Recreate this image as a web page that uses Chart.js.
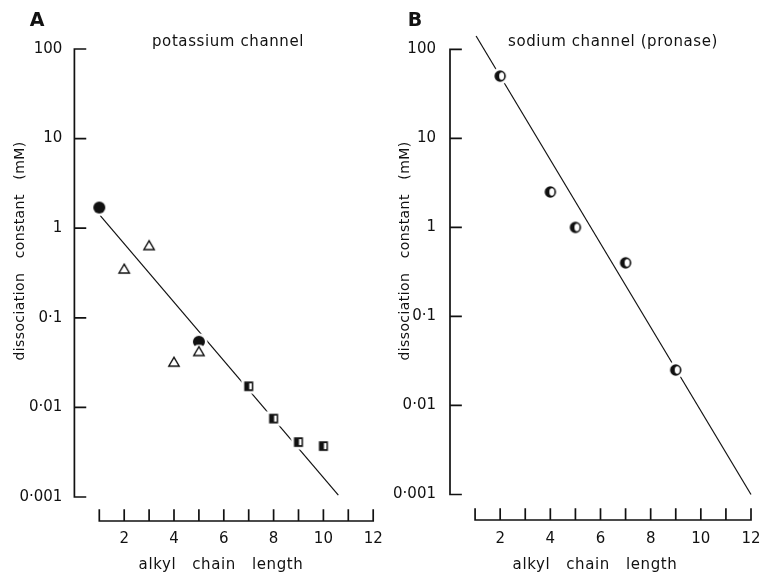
<!DOCTYPE html>
<html>
<head>
<meta charset="utf-8">
<script src="https://cdn.jsdelivr.net/npm/chart.js@4.4.0/dist/chart.umd.min.js"></script>
<style>
  body { margin: 0; background: #fff; }
  #quadro { position: relative; width: 760px; height: 573px; overflow: hidden; }
  .painel { position: absolute; top: 0; }
</style>
</head>
<body>
<div id="quadro">
  <canvas id="graficoA" class="painel" style="left:0px" width="390" height="573"></canvas>
  <canvas id="graficoB" class="painel" style="left:370px" width="390" height="573"></canvas>
</div>
<script>
// 1. Data

// shared axes
const chainTicks = [1, 2, 3, 4, 5, 6, 7, 8, 9, 10, 11, 12];
const chainLabels = [2, 4, 6, 8, 10, 12];
const yTickValues = [0.001, 0.01, 0.1, 1, 10, 100];
const yTickLabels = ['0·001', '0·01', '0·1', '1', '10', '100'];

// panel A - potassium channel
const kFilledX = [1, 5];
const kFilledY = [1.7, 0.054];
const kTriangleX = [2, 3, 4, 5];
const kTriangleY = [0.35, 0.64, 0.032, 0.042];
const kSquareX = [7, 8, 9, 10];
const kSquareY = [0.0172, 0.0075, 0.0041, 0.0037];
const kFitX = [1.03, 10.6];
const kFitY = [1.39, 0.00105];

// panel B - sodium channel (pronase)
const naHalfX = [2, 4, 5, 7, 9];
const naHalfY = [50, 2.5, 1.0, 0.40, 0.025];
const naFitX = [1.04, 12];
const naFitY = [141, 0.001];

const fonte = '"DejaVu Sans", sans-serif';
const tinta = '#111';

function pontos(xs, ys) {
    return xs.map((x, i) => ({ x: x, y: ys[i] }));
}

// 2. Marker glyphs (small canvases used as pointStyle, white halo breaks the fit line)
function marcador(desenho) {
    const c = document.createElement('canvas');
    c.width = 22; c.height = 22;
    const g = c.getContext('2d');
    g.translate(11, 11);
    desenho(g);
    return c;
}
const circuloCheio = marcador(g => {
    g.fillStyle = '#fff'; g.beginPath(); g.arc(0, 0, 8.5, 0, Math.PI * 2); g.fill();
    g.fillStyle = tinta; g.beginPath(); g.arc(0, 0, 6, 0, Math.PI * 2); g.fill();
});
const triangulo = marcador(g => {
    g.fillStyle = '#fff'; g.beginPath(); g.arc(0, 0, 7, 0, Math.PI * 2); g.fill();
    g.strokeStyle = tinta; g.lineWidth = 1.4; g.lineJoin = 'miter';
    g.beginPath(); g.moveTo(0, -4.8); g.lineTo(5.2, 4); g.lineTo(-5.2, 4); g.closePath(); g.stroke();
});
const quadradoMeio = marcador(g => {
    g.fillStyle = '#fff'; g.fillRect(-7.5, -7.5, 15, 15);
    g.fillStyle = tinta; g.fillRect(-4.5, -4.8, 9, 9.6);
    g.fillStyle = '#fff'; g.fillRect(0.5, -3, 2.5, 6);
});
const circuloMeio = marcador(g => {
    g.fillStyle = '#fff'; g.beginPath(); g.arc(0, 0, 8.5, 0, Math.PI * 2); g.fill();
    g.fillStyle = tinta; g.beginPath(); g.arc(0, 0, 5.7, 0, Math.PI * 2); g.fill();
    g.fillStyle = '#fff'; g.beginPath(); g.ellipse(1.5, 0, 2.5, 3.7, 0, 0, Math.PI * 2); g.fill();
});

function serieMarcas(xs, ys, estilo) {
    return { data: pontos(xs, ys), pointStyle: estilo, pointRadius: 6, showLine: false, order: 1 };
}
function serieReta(xs, ys) {
    return { data: pontos(xs, ys), showLine: true, pointRadius: 0, borderColor: tinta,
             borderWidth: 1.2, clip: false, order: 2 };
}

// 3. Plugin that draws the axes in the figure's style plus the texts
const eixosPlugin = {
    id: 'eixosFigura',
    afterDraw(chart, args, o) {
        const { ctx, chartArea, scales } = chart;
        const sx = scales.x, sy = scales.y;
        const esq = chartArea.left;
        ctx.save();
        ctx.strokeStyle = tinta;
        ctx.lineWidth = 1.7;
        ctx.lineCap = 'square';

        // y axis with inward ticks
        ctx.beginPath();
        ctx.moveTo(esq, sy.getPixelForValue(100));
        ctx.lineTo(esq, sy.getPixelForValue(0.001));
        yTickValues.forEach(v => {
            const py = sy.getPixelForValue(v);
            ctx.moveTo(esq, py);
            ctx.lineTo(esq + 11, py);
        });
        ctx.stroke();

        // detached x axis below the plot, ticks pointing up
        const base = chartArea.bottom + o.gap;
        ctx.beginPath();
        ctx.moveTo(sx.getPixelForValue(1), base);
        ctx.lineTo(sx.getPixelForValue(12), base);
        chainTicks.forEach(v => {
            const px = sx.getPixelForValue(v);
            ctx.moveTo(px, base);
            ctx.lineTo(px, base - 11);
        });
        ctx.stroke();

        ctx.fillStyle = tinta;
        ctx.textAlign = 'center';
        ctx.textBaseline = 'middle';

        // x tick labels
        ctx.font = '15px ' + fonte;
        chainLabels.forEach(v => {
            ctx.fillText(String(v), sx.getPixelForValue(v), 539);
        });

        // panel letter
        ctx.font = 'bold 19px ' + fonte;
        ctx.fillText(o.letra, o.letraX, 21);

        // panel title
        ctx.font = '15px ' + fonte;
        ctx.letterSpacing = '0.6px';
        ctx.fillText(o.titulo, o.tituloX, 42);

        // x axis title
        ctx.fillText('alkyl   chain   length', o.xTituloX, 565);

        // y axis title
        ctx.font = '14px ' + fonte;
        ctx.letterSpacing = '0.4px';
        ctx.translate(o.yTituloX, 251);
        ctx.rotate(-Math.PI / 2);
        ctx.fillText('dissociation   constant   (mM)', 0, 0);
        ctx.restore();
    }
};

// 4. Builds one panel
function montarPainel(id, cfg) {
    return new Chart(document.getElementById(id), {
        type: 'scatter',
        data: { datasets: cfg.datasets },
        options: {
            responsive: false,
            animation: false,
            layout: { padding: { left: 0, top: cfg.topo, right: cfg.direita, bottom: 0 } },
            plugins: {
                legend: { display: false },
                tooltip: { enabled: false },
                eixosFigura: cfg.texto
            },
            scales: {
                x: {
                    type: 'linear', min: 0, max: 12,
                    border: { display: false },
                    grid: { display: false, drawTicks: false },
                    ticks: { display: false },
                    afterFit: s => { s.height = cfg.xAltura; }
                },
                y: {
                    type: 'logarithmic', min: 0.001, max: 100,
                    border: { display: false },
                    grid: { display: false, drawTicks: false },
                    afterBuildTicks: s => { s.ticks = yTickValues.map(v => ({ value: v })); },
                    ticks: {
                        padding: cfg.yPad, color: tinta, font: { family: fonte, size: 15 },
                        callback: (v, i) => yTickLabels[i]
                    },
                    afterFit: s => { s.width = cfg.yLargura; }
                }
            }
        },
        plugins: [eixosPlugin]
    });
}

montarPainel('graficoA', {
    topo: 49, direita: 390 - 373.2, xAltura: 573 - 497, yLargura: 74.4, yPad: 12,
    texto: { letra: 'A', letraX: 37, titulo: 'potassium channel', tituloX: 228, xTituloX: 221, yTituloX: 20, gap: 24 },
    datasets: [
        serieReta(kFitX, kFitY),
        serieMarcas(kTriangleX, kTriangleY, triangulo),
        serieMarcas(kSquareX, kSquareY, quadradoMeio),
        serieMarcas(kFilledX, kFilledY, circuloCheio)
    ]
});

montarPainel('graficoB', {
    topo: 49.3, direita: 390 - 381, xAltura: 573 - 494.5, yLargura: 80, yPad: 14,
    texto: { letra: 'B', letraX: 415 - 370, titulo: 'sodium channel (pronase)', tituloX: 613 - 370, xTituloX: 595 - 370, yTituloX: 405 - 370, gap: 25.5 },
    datasets: [
        serieReta(naFitX, naFitY),
        serieMarcas(naHalfX, naHalfY, circuloMeio)
    ]
});
</script>
</body>
</html>
